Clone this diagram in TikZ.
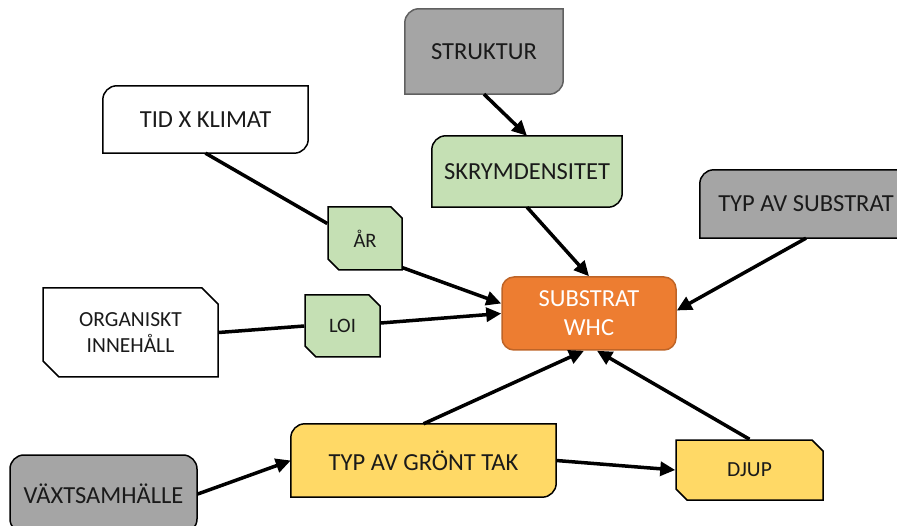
\documentclass[tikz,border=0pt]{standalone}
\usepackage{fontspec}
\setmainfont{Carlito}
\usepackage{xcolor}
\usetikzlibrary{shapes.misc, arrows.meta, positioning, backgrounds}

\definecolor{boxgray}{HTML}{A5A5A5}
\definecolor{boxgreen}{HTML}{C5E0B4}
\definecolor{boxorange}{HTML}{ED7D31}
\definecolor{boxyellow}{HTML}{FFD966}
\definecolor{txt}{HTML}{1A1A1A}

\tikzset{
  lbl/.style={text=txt, font=\fontsize{24.5}{29}\selectfont, align=center, inner sep=0pt},
  snip/.style={lbl, chamfered rectangle, chamfered rectangle corners={north east, south west},
    chamfered rectangle sep=5.5pt, draw=black, line width=1.5pt},
  rdiag/.style={line width=1.5pt},
  link/.style={line width=3.5pt, black},
  arr/.style={link, -{Triangle[length=15pt,width=14pt]}}
}

\begin{document}
\begin{tikzpicture}[x=1pt, y=-1pt]
  \useasboundingbox (0,0) rectangle (897,526);

  % top row
  \node[lbl, minimum width=158pt, minimum height=85pt] (struktur) at (484,51.5) {STRUKTUR};
  \node[lbl, minimum width=205pt, minimum height=67pt] (klimat) at (205.5,119.5) {TID X KLIMAT};
  \node[lbl, minimum width=190pt, minimum height=71pt] (skrym) at (527,171.5) {SKRYMDENSITET};
  \node[lbl, minimum width=212pt, minimum height=68pt] (typsub) at (806,204) {TYP AV SUBSTRAT};

  % middle row
  \node[snip, fill=boxgreen, font=\fontsize{20.5}{24}\selectfont, minimum width=74pt, minimum height=63pt] (ar) at (365,238.5) {ÅR};
  \node[snip, fill=white, font=\fontsize{21.5}{26}\selectfont, chamfered rectangle sep=8pt,
    minimum width=175pt, minimum height=89pt] (organiskt) at (130.5,332.5) {ORGANISKT\\INNEHÅLL};
  \node[snip, fill=boxgreen, font=\fontsize{20.5}{24}\selectfont, minimum width=75pt, minimum height=62pt] (loi) at (342.5,326) {LOI};
  \node[lbl, text=white, fill=boxorange, draw=boxorange!80!black, line width=1.5pt, rounded corners=12pt,
    minimum width=174pt, minimum height=73pt] (whc) at (589,313.5) {SUBSTRAT\\WHC};

  % bottom row
  \node[lbl, minimum width=265pt, minimum height=73pt] (gronttak) at (423.5,460.5) {TYP AV GRÖNT TAK};
  \node[snip, fill=boxyellow, font=\fontsize{21.5}{26}\selectfont, minimum width=147pt, minimum height=60pt] (djup) at (749.5,470) {DJUP};
  \node[lbl, fill=boxgray, draw=black, line width=1.5pt, rounded corners=14pt,
    minimum width=187pt, minimum height=78pt] (vaxt) at (103.5,494) {VÄXTSAMHÄLLE};

  \begin{scope}[on background layer]
    \foreach \n/\f/\d in {struktur/boxgray/gray!75!black, klimat/white/black, skrym/boxgreen/black,
                          typsub/boxgray/black, gronttak/boxyellow/black}
      \draw[rdiag, fill=\f, draw=\d] (\n.south west) [rounded corners=14pt] -- (\n.north west)
        [sharp corners] -- (\n.north east) [rounded corners=14pt] -- (\n.south east)
        [sharp corners] -- cycle;% round diagonal corners
  \end{scope}

  \draw[arr] (struktur.south) -- (skrym.north);
  \draw[arr] (skrym.south) -- (whc.north);
  \draw[link] (klimat.south) -- ([yshift=15pt]ar.west);
  \draw[arr] ([yshift=3pt]ar.south east) -- ([yshift=10pt]whc.west);
  \draw[arr] (typsub.south) -- ([yshift=3pt]whc.east);
  \draw[link] (organiskt.east) -- (loi.west);
  \draw[arr] ([yshift=3pt]loi.east) -- (whc.west);
  \draw[arr] (gronttak.north) -- ([xshift=-5pt]whc.south);
  \draw[arr] (djup.north) -- ([xshift=8pt]whc.south);
  \draw[arr] (vaxt.east) -- (gronttak.west);
  \draw[arr] (gronttak.east) -- (djup.west);
\end{tikzpicture}
\end{document}
